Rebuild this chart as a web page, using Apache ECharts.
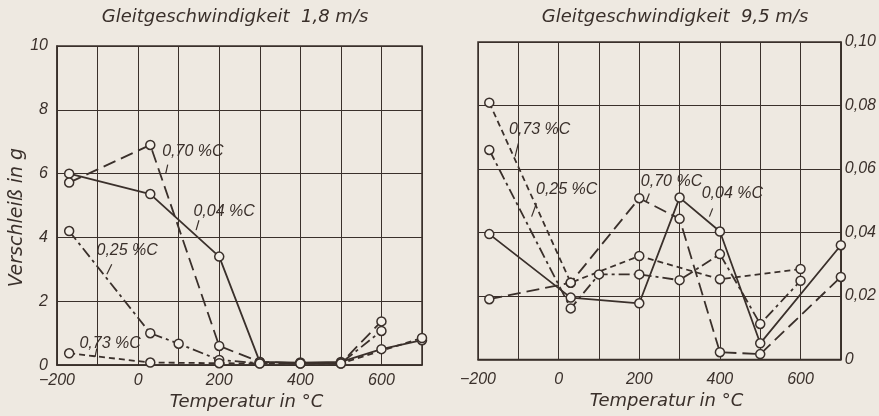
<!DOCTYPE html>
<html><head><meta charset="utf-8">
<script src="https://cdn.jsdelivr.net/npm/echarts@6/dist/echarts.min.js"></script>
<style>html,body{margin:0;padding:0;background:#eee9e1;}#c{width:879px;height:416px;}</style>
</head><body><div id="c"></div>
<script>
// ---------- data: left chart (Gleitgeschwindigkeit 1,8 m/s), Verschleiß in g ----------
const left_T_004 = [-170, 30, 200, 300, 400, 500, 600, 700];
const left_V_004 = [6.0, 5.36, 3.4, 0.1, 0.08, 0.1, 0.5, 0.78];
const left_T_070 = [-170, 30, 200, 300, 400, 500, 600];
const left_V_070 = [5.72, 6.9, 0.6, 0.1, 0.06, 0.06, 1.37];
const left_T_025 = [-170, 30, 100, 200, 300, 400, 500, 600];
const left_V_025 = [4.2, 1.0, 0.67, 0.16, 0.06, 0.06, 0.06, 1.07];
const left_T_073 = [-170, 30, 200, 300, 400, 500, 700];
const left_V_073 = [0.37, 0.08, 0.06, 0.05, 0.05, 0.05, 0.85];

// ---------- data: right chart (Gleitgeschwindigkeit 9,5 m/s) ----------
const right_T_004 = [-172, 30, 200, 300, 400, 500, 700];
const right_V_004 = [0.0395, 0.0195, 0.0177, 0.051, 0.0403, 0.0051, 0.036];
const right_T_070 = [-172, 30, 200, 300, 400, 500, 700];
const right_V_070 = [0.019, 0.0242, 0.0508, 0.0443, 0.0023, 0.0017, 0.026];
const right_T_025 = [-172, 30, 100, 200, 300, 400, 500, 600];
const right_V_025 = [0.066, 0.0161, 0.0268, 0.0268, 0.025, 0.0332, 0.0112, 0.0248];
const right_T_073 = [-172, 30, 200, 400, 600];
const right_V_073 = [0.0809, 0.0242, 0.0326, 0.0253, 0.0285];

// ---------- texts ----------
const titleLeft = 'Gleitgeschwindigkeit  1,8 m/s';
const titleRight = 'Gleitgeschwindigkeit  9,5 m/s';
const xName = 'Temperatur in °C';
const yNameLeft = 'Verschleiß in g';
const carbonNames = ['0,04 %C', '0,70 %C', '0,25 %C', '0,73 %C'];

// ---------- annotation anchors (data coordinates) ----------
const leftLabels = [
  {text: carbonNames[1], at: [135, 6.68], tick: [[73, 6.28], [68, 6.0]]},
  {text: carbonNames[0], at: [212, 4.82], tick: [[150, 4.54], [143, 4.23]]},
  {text: carbonNames[2], at: [-27, 3.58], tick: [[-65, 3.16], [-77, 2.85]]},
  {text: carbonNames[3], at: [-69, 0.67], tick: [[-102, 0.52], [-106, 0.26]]}
];
const rightLabels = [
  {text: carbonNames[3], at: [-47, 0.0723], tick: [[-100, 0.0681], [-108, 0.0639]]},
  {text: carbonNames[2], at: [20, 0.0534], tick: [[-55, 0.0492], [-67, 0.045]]},
  {text: carbonNames[1], at: [280, 0.0562], tick: [[225, 0.0523], [217, 0.0497]]},
  {text: carbonNames[0], at: [431, 0.0524], tick: [[382, 0.0476], [374, 0.045]]}
];

const INK = '#3a302b';
const BG = '#eee9e1';
const FONT = "'Liberation Sans','DejaVu Sans',sans-serif";
const FONT_W = "'DejaVu Sans',sans-serif";
const zip = (t, v) => t.map((x, i) => [x, v[i]]);

const dashes = {
  solid: 'solid',
  long: [13, 6],
  dashdot: [11, 4, 3, 4],
  short: [6, 4]
};

function makeSeries(name, T, V, type, idx) {
  return {
    name: name, type: 'line', xAxisIndex: idx, yAxisIndex: idx,
    data: zip(T, V),
    symbol: 'circle', symbolSize: 9,
    itemStyle: {color: '#f3efe8', borderColor: INK, borderWidth: 1.5},
    lineStyle: {color: INK, width: 1.8, type: dashes[type]},
    animation: false, z: 3
  };
}

function labelSeries(labels, idx) {
  return {
    type: 'scatter', xAxisIndex: idx, yAxisIndex: idx,
    data: [], silent: true, animation: false,
    markPoint: {
      symbol: 'circle', symbolSize: 0, silent: true, animation: false,
      label: {show: true, position: 'inside', color: INK, fontFamily: FONT, fontStyle: 'italic', fontSize: 16,
        formatter: p => p.name},
      data: labels.map(l => ({name: l.text, coord: l.at}))
    },
    markLine: {
      symbol: ['none', 'none'], silent: true, animation: false,
      label: {show: false},
      lineStyle: {color: INK, width: 1.2, type: 'solid'},
      data: labels.map(l => [{coord: l.tick[0]}, {coord: l.tick[1]}])
    }
  };
}

const xFmt = v => (v % 200 === 0 && v <= 600) ? (v < 0 ? '\u2212' + Math.abs(v) : String(v)) : '';
const tickText = {color: INK, fontFamily: FONT, fontStyle: 'italic', fontSize: 16};
const nameText = {color: INK, fontFamily: FONT_W, fontStyle: 'italic', fontSize: 18};
const titleText = {color: INK, fontFamily: FONT_W, fontStyle: 'italic', fontWeight: 'normal', fontSize: 18};

const chart = echarts.init(document.getElementById('c'), null, {renderer: 'canvas'});
chart.setOption({
  backgroundColor: BG,
  animation: false,
  title: [
    {text: titleLeft, left: 230, top: 3, textAlign: 'center', textStyle: titleText},
    {text: titleRight, left: 670, top: 3, textAlign: 'center', textStyle: titleText}
  ],
  grid: [
    {left: 57, top: 46, width: 365, height: 322.5, show: true, borderColor: INK, borderWidth: 1.5, backgroundColor: 'transparent'},
    {left: 478, top: 42, width: 364, height: 317.5, show: true, borderColor: INK, borderWidth: 1.5, backgroundColor: 'transparent'}
  ],
  xAxis: [
    {type: 'value', gridIndex: 0, min: -200, max: 700, interval: 100,
      name: xName, nameLocation: 'middle', nameGap: 25,
      nameTextStyle: Object.assign({padding: [0, 0, 0, 14]}, nameText),
      axisLine: {show: true, onZero: false, lineStyle: {color: INK, width: 1.5}}, axisTick: {show: false},
      axisLabel: Object.assign({formatter: xFmt, margin: 7}, tickText),
      splitLine: {show: true, lineStyle: {color: INK, width: 1}}},
    {type: 'value', gridIndex: 1, min: -200, max: 700, interval: 100,
      name: xName, nameLocation: 'middle', nameGap: 28,
      nameTextStyle: Object.assign({padding: [0, 0, 0, 14]}, nameText),
      axisLine: {show: true, onZero: false, lineStyle: {color: INK, width: 1.5}}, axisTick: {show: false},
      axisLabel: Object.assign({formatter: xFmt, margin: 12}, tickText),
      splitLine: {show: true, lineStyle: {color: INK, width: 1}}}
  ],
  yAxis: [
    {type: 'value', gridIndex: 0, min: 0, max: 10, interval: 2,
      name: yNameLeft, nameLocation: 'middle', nameGap: 30,
      nameTextStyle: Object.assign({padding: [0, 24, 0, 0]}, nameText, {fontSize: 19}),
      axisLine: {show: true, onZero: false, lineStyle: {color: INK, width: 1.5}}, axisTick: {show: false},
      axisLabel: Object.assign({margin: 9}, tickText),
      splitLine: {show: true, lineStyle: {color: INK, width: 1}}},
    {type: 'value', gridIndex: 1, min: 0, max: 0.1, interval: 0.02, position: 'right',
      axisLine: {show: true, onZero: false, lineStyle: {color: INK, width: 1.5}}, axisTick: {show: false},
      axisLabel: Object.assign({margin: 4,
        formatter: v => v === 0 ? '0' : v.toFixed(2).replace('.', ',')}, tickText),
      splitLine: {show: true, lineStyle: {color: INK, width: 1}}}
  ],
  series: [
    makeSeries(carbonNames[0], left_T_004, left_V_004, 'solid', 0),
    makeSeries(carbonNames[1], left_T_070, left_V_070, 'long', 0),
    makeSeries(carbonNames[2], left_T_025, left_V_025, 'dashdot', 0),
    makeSeries(carbonNames[3], left_T_073, left_V_073, 'short', 0),
    makeSeries(carbonNames[0], right_T_004, right_V_004, 'solid', 1),
    makeSeries(carbonNames[1], right_T_070, right_V_070, 'long', 1),
    makeSeries(carbonNames[2], right_T_025, right_V_025, 'dashdot', 1),
    makeSeries(carbonNames[3], right_T_073, right_V_073, 'short', 1),
    labelSeries(leftLabels, 0),
    labelSeries(rightLabels, 1)
  ]
});
</script></body></html>
